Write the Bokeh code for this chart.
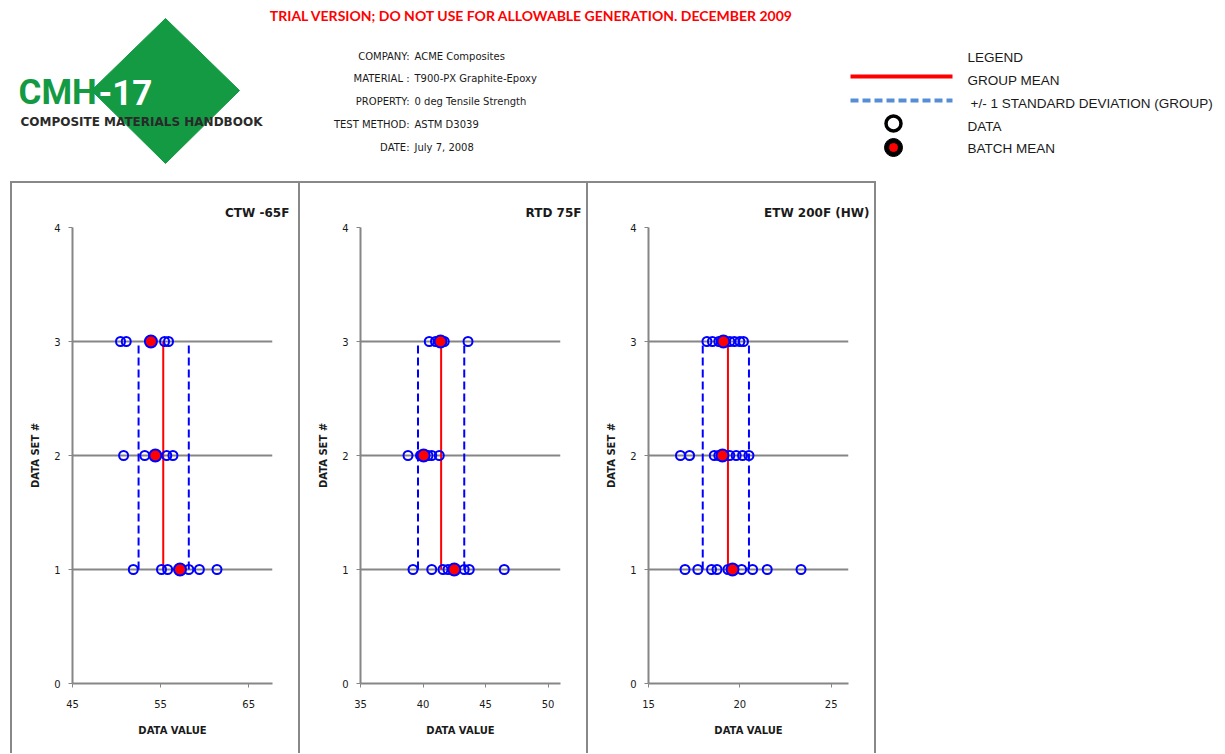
from bokeh.plotting import figure
from bokeh.layouts import column, row
from bokeh.models import Range1d, FixedTicker, Div, Spacer, Title
from bokeh.embed import file_html
from bokeh.resources import INLINE
from bokeh.core.properties import value

# ---------------- data ----------------
panel_titles = ["CTW  -65F", "RTD 75F", "ETW 200F (HW)"]
x_limits = [(45, 67.7), (35, 51), (15, 25.95)]
x_tick_values = [[45, 55, 65], [35, 40, 45, 50], [15, 20, 25]]
y_tick_values = [0, 1, 2, 3, 4]

ctw_set1 = [51.9, 55.1, 55.8, 57.3, 58.2, 59.4, 61.4]
ctw_set2 = [50.8, 53.2, 54.4, 55.7, 56.4]
ctw_set3 = [50.45, 51.1, 53.9, 55.45, 55.9]
ctw_batch_means = [57.2, 54.4, 53.9]
ctw_group_mean = 55.3
ctw_sd_low, ctw_sd_high = 52.5, 58.2

rtd_set1 = [39.2, 40.7, 41.6, 42.0, 42.5, 43.3, 43.7, 46.5]
rtd_set2 = [38.8, 39.8, 40.1, 40.4, 40.7, 41.3]
rtd_set3 = [40.5, 41.0, 41.4, 41.7, 43.6]
rtd_batch_means = [42.5, 40.05, 41.4]
rtd_group_mean = 41.45
rtd_sd_low, rtd_sd_high = 39.6, 43.3

etw_set1 = [17.0, 17.7, 18.45, 18.75, 19.35, 20.1, 20.7, 21.5, 23.35]
etw_set2 = [16.75, 17.25, 18.6, 18.85, 19.05, 19.45, 19.8, 20.15, 20.5]
etw_set3 = [18.2, 18.5, 18.85, 19.1, 19.45, 19.7, 20.0, 20.2]
etw_batch_means = [19.6, 19.05, 19.1]
etw_group_mean = 19.35
etw_sd_low, etw_sd_high = 17.97, 20.5

info_labels = ["COMPANY:", "MATERIAL :", "PROPERTY:", "TEST METHOD:", "DATE:"]
info_values = ["ACME Composites", "T900-PX Graphite-Epoxy", "0 deg Tensile Strength",
               "ASTM D3039", "July 7, 2008"]
legend_texts = ["LEGEND", "GROUP MEAN", "+/-  1 STANDARD DEVIATION (GROUP)", "DATA", "BATCH MEAN"]

panels_data = [
    (ctw_set1, ctw_set2, ctw_set3, ctw_batch_means, ctw_group_mean, ctw_sd_low, ctw_sd_high),
    (rtd_set1, rtd_set2, rtd_set3, rtd_batch_means, rtd_group_mean, rtd_sd_low, rtd_sd_high),
    (etw_set1, etw_set2, etw_set3, etw_batch_means, etw_group_mean, etw_sd_low, etw_sd_high),
]

BLUE = "#0000FF"
RED = "#FF0000"
GRAY = "#868686"
TXT = "#1a1a1a"
GREEN = "#139a43"

# ---------------- header ----------------
HW, HH = 1225, 181
hdr = figure(width=HW, height=HH, x_range=Range1d(0, HW), y_range=Range1d(HH, 0),
             toolbar_location=None, output_backend="svg", min_border=0,
             x_axis_location=None, y_axis_location=None)
hdr.grid.visible = False
hdr.outline_line_color = None

hdr.text([533], [15], text=["TRIAL VERSION; DO NOT USE FOR ALLOWABLE GENERATION.  DECEMBER 2009"],
         text_align="center", text_baseline="middle", text_color=RED,
         text_font=value("Lato"), text_font_style="bold", text_font_size="14px")

# logo
hdr.patch([165, 239, 165, 91], [18, 90, 163, 90], fill_color=GREEN, line_color=GREEN)
hdr.text([18], [92], text=["CMH"], text_align="left", text_baseline="middle",
         text_color=GREEN, text_font=value("Roboto"), text_font_style="bold", text_font_size="35px")
hdr.text([98], [92], text=["-17"], text_align="left", text_baseline="middle",
         text_color="white", text_font=value("Roboto"), text_font_style="bold", text_font_size="35px")
hdr.text([20], [121], text=["COMPOSITE MATERIALS HANDBOOK"], text_align="left",
         text_baseline="middle", text_color="#2a2a2a", text_font=value("DejaVu Sans"),
         text_font_style="bold", text_font_size="12px")

# info block
info_y = [56, 78, 101, 124, 147]
hdr.text([409] * 5, info_y, text=info_labels, text_align="right",
         text_baseline="middle", text_color=TXT, text_font=value("DejaVu Sans"), text_font_size="10px")
hdr.text([414] * 5, info_y, text=info_values, text_align="left",
         text_baseline="middle", text_color=TXT, text_font=value("DejaVu Sans"), text_font_size="10px")

# legend
leg_x = [967, 967, 970, 967, 967]
leg_y = [57, 80, 103, 126, 148]
hdr.text(leg_x, leg_y, text=legend_texts, text_align="left",
         text_baseline="middle", text_color=TXT, text_font=value("Liberation Sans"), text_font_size="13.5px")
hdr.line([850, 952], [76, 76], line_color=RED, line_width=4)
hdr.line([850, 952], [100, 100], line_color="#558ed5", line_width=4, line_dash="8 4")
hdr.scatter([893], [123], size=15, fill_color="white", line_color="black", line_width=3.5)
hdr.scatter([893], [147], size=18, fill_color="black", line_color="black", line_width=1)
hdr.scatter([893], [147], size=8, fill_color=RED, line_color=RED)

# ---------------- panels ----------------
PW, PH = 286, 570

def make_panel(i):
    s1, s2, s3, bmeans, gmean, sdl, sdh = panels_data[i]
    p = figure(width=PW, height=PH, x_range=Range1d(*x_limits[i]), y_range=Range1d(0, 4),
               toolbar_location=None, output_backend="svg",
               min_border_left=60, min_border_right=26, min_border_top=44, min_border_bottom=70)
    p.outline_line_color = None
    p.background_fill_color = "white"
    p.border_fill_color = "white"
    p.title = Title(text=panel_titles[i], align="right", offset=-21, standoff=16,
                    text_font="DejaVu Sans", text_font_style="bold", text_font_size="12px",
                    text_color=TXT)

    p.xgrid.visible = False
    p.ygrid.ticker = FixedTicker(ticks=[1, 2, 3, 4])
    p.ygrid.grid_line_color = GRAY
    p.ygrid.grid_line_width = 2

    p.xaxis.ticker = FixedTicker(ticks=x_tick_values[i])
    p.yaxis.ticker = FixedTicker(ticks=y_tick_values)
    p.xaxis.axis_label = "DATA VALUE"
    p.yaxis.axis_label = "DATA SET #"
    for ax in (p.xaxis, p.yaxis):
        ax.axis_line_color = GRAY
        ax.axis_line_width = 2
        ax.major_tick_line_color = GRAY
        ax.major_tick_line_width = 1
        ax.major_tick_out = 4
        ax.major_tick_in = 0
        ax.minor_tick_line_color = None
        ax.major_label_text_font = "DejaVu Sans"
        ax.major_label_text_font_size = "10px"
        ax.major_label_text_color = TXT
        ax.axis_label_text_font = "DejaVu Sans"
        ax.axis_label_text_font_style = "bold"
        ax.axis_label_text_font_size = "10px"
        ax.axis_label_text_color = TXT
    p.xaxis.major_label_standoff = 12
    p.xaxis.axis_label_standoff = 14
    p.yaxis.major_label_standoff = 8
    p.yaxis.axis_label_standoff = 10

    # group mean and +/- 1 sd
    p.segment(x0=[gmean], y0=[1], x1=[gmean], y1=[3], line_color=RED, line_width=2)
    p.segment(x0=[sdl, sdh], y0=[1, 1], x1=[sdl, sdh], y1=[3, 3], line_color=BLUE,
              line_width=2, line_dash="8 4")

    for k, s in enumerate((s1, s2, s3)):
        p.scatter(s, [k + 1] * len(s), size=9, fill_color=None, line_color=BLUE, line_width=2)
    p.scatter(bmeans, [1, 2, 3], size=12, fill_color=RED, line_color=BLUE, line_width=2)
    return p

panels = [make_panel(i) for i in range(3)]

def vline():
    return Div(width=2, height=PH, margin=0, styles={"background-color": "#888888"})

hline = Div(width=866, height=2, margin=0, styles={"background-color": "#888888"})

layout = column(
    hdr,
    row(Spacer(width=10, height=2, margin=0), hline),
    row(Spacer(width=10, height=PH, margin=0), vline(), panels[0], vline(), panels[1], vline(),
        panels[2], vline()),
)

open("out.html", "w").write(file_html(layout, INLINE))
